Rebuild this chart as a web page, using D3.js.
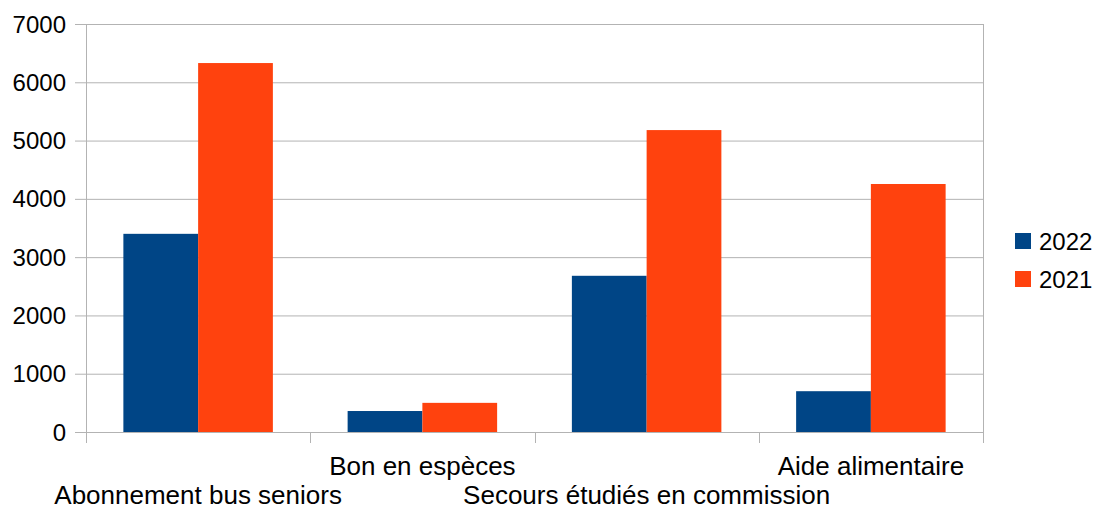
<!DOCTYPE html>
<html><head><meta charset="utf-8">
<script src="https://cdn.jsdelivr.net/npm/d3@7/dist/d3.min.js"></script>
<style>body{margin:0;background:#fff}text{font-family:"Liberation Sans",Arial,sans-serif}</style>
</head><body><svg id="c" width="1098" height="506"></svg>
<script>
const categories = ["Abonnement bus seniors","Bon en espèces","Secours étudiés en commission","Aide alimentaire"];
const seriesNames = ["2022","2021"];
const values2022 = [3400, 360, 2680, 700];
const values2021 = [6330, 500, 5180, 4255];
const yTicks = [0,1000,2000,3000,4000,5000,6000,7000];
const colors = ["#004586","#ff420e"];

const svg = d3.select("#c");
const L=86, R=983, T=24, B=432;
const x = d3.scaleBand().domain(categories).range([L,R]);
const xs = d3.scaleBand().domain(seriesNames).range([0,x.bandwidth()]).paddingOuter(0.5).paddingInner(0);
const y = d3.scaleLinear().domain([0,7000]).range([B,T]);
const grid="#b3b3b3";

svg.append("g").selectAll("line").data(yTicks).join("line")
  .attr("x1",L-11).attr("x2",R).attr("y1",d=>y(d)+0.5).attr("y2",d=>y(d)+0.5)
  .attr("stroke",grid).attr("stroke-width",1);
svg.append("line").attr("x1",L+0.5).attr("x2",L+0.5).attr("y1",T).attr("y2",B+11).attr("stroke",grid);
svg.append("line").attr("x1",R+0.5).attr("x2",R+0.5).attr("y1",T).attr("y2",B+11).attr("stroke",grid);
const bounds = categories.map(c=>x(c)).concat([R]);
svg.append("g").selectAll("line").data(bounds).join("line")
  .attr("x1",d=>Math.round(d)+0.5).attr("x2",d=>Math.round(d)+0.5).attr("y1",B).attr("y2",B+11).attr("stroke",grid);

svg.append("g").selectAll("text").data(yTicks).join("text")
  .attr("x",66).attr("y",d=>y(d)+8.5).attr("text-anchor","end")
  .attr("font-size",24).attr("fill","#000").text(d=>d);

const data = [values2022, values2021];
seriesNames.forEach((s,si)=>{
  svg.append("g").selectAll("rect").data(categories).join("rect")
    .attr("x",c=>x(c)+xs(s)).attr("width",xs.bandwidth())
    .attr("y",(c,i)=>y(data[si][i])).attr("height",(c,i)=>B-y(data[si][i]))
    .attr("fill",colors[si]);
});

svg.append("g").selectAll("text").data(categories).join("text")
  .attr("x",c=>x(c)+x.bandwidth()/2).attr("y",(c,i)=>i%2===0?504:475)
  .attr("text-anchor","middle").attr("font-size",26).attr("fill","#000").text(c=>c);

const lg = svg.append("g");
seriesNames.forEach((s,i)=>{
  lg.append("rect").attr("x",1015).attr("y",233+i*38).attr("width",16).attr("height",16).attr("fill",colors[i]);
  lg.append("text").attr("x",1039).attr("y",250+i*38).attr("font-size",24).attr("fill","#000").text(s);
});
</script></body></html>
